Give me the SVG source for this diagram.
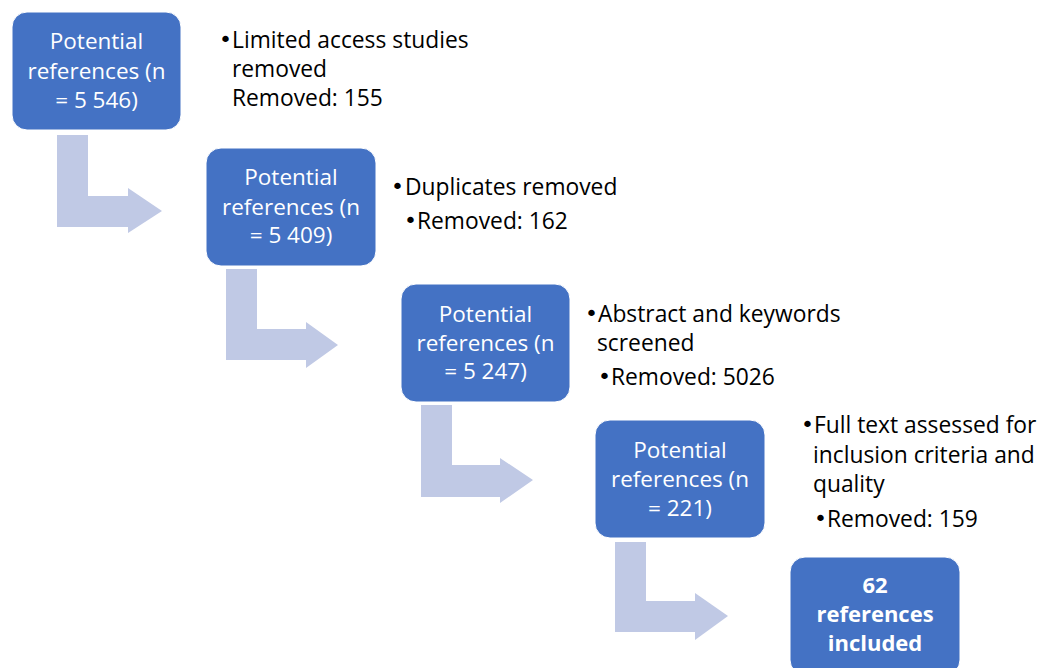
<svg xmlns="http://www.w3.org/2000/svg" width="1042" height="668" viewBox="0 0 1042 668">
<style>
.box{fill:#4472C4;stroke:#ffffff;stroke-width:1}
.arr{fill:#C0C9E5}
.bt{font-family:"Open Sans","Noto Sans",sans-serif;font-size:22.5px;fill:#ffffff;text-anchor:middle}
.bb{font-family:"Open Sans","Noto Sans",sans-serif;font-size:22px;font-weight:bold;fill:#ffffff;text-anchor:middle}
.st{font-family:"Open Sans","Noto Sans",sans-serif;font-size:22.8px;fill:#000000}
.bu{font-family:"DejaVu Sans",sans-serif;font-size:22px;fill:#000000}
</style>
<rect width="1042" height="668" fill="#ffffff"/>
<g id="connectors">
<polygon class="arr" points="57,135 88,135 88,196 128,196 128,188 162,211 128,233 128,227 57,227"/>
<polygon class="arr" points="226,269 257,269 257,329 306,329 306,322 338,345 306,368 306,360 226,360"/>
<polygon class="arr" points="421,405 452,405 452,465 500,465 500,458 533,480 500,503 500,497 421,497"/>
<polygon class="arr" points="615,542 646,542 646,601 695,601 695,593 728,616 695,640 695,632 615,632"/>
</g>
<g id="node1">
<rect class="box" x="12" y="12" width="169" height="118" rx="15"/>
<text class="bt" x="96.5" y="49">Potential</text>
<text class="bt" x="96.5" y="79">references (n</text>
<text class="bt" x="96.5" y="108">= 5 546)</text>
</g>
<g id="note1">
<text class="bu" x="219" y="47">•</text>
<text class="st" x="232" y="48">Limited access studies</text>
<text class="st" x="232" y="77">removed</text>
<text class="st" x="232" y="106">Removed: 155</text>
</g>
<g id="node2">
<rect class="box" x="206" y="148" width="170" height="118" rx="15"/>
<text class="bt" x="291" y="185">Potential</text>
<text class="bt" x="291" y="215">references (n</text>
<text class="bt" x="291" y="243">= 5 409)</text>
</g>
<g id="note2">
<text class="bu" x="391" y="194">•</text>
<text class="st" x="405" y="195">Duplicates removed</text>
<text class="bu" x="404" y="228">•</text>
<text class="st" x="417" y="229">Removed: 162</text>
</g>
<g id="node3">
<rect class="box" x="401" y="284" width="169" height="118" rx="15"/>
<text class="bt" x="485.5" y="322">Potential</text>
<text class="bt" x="485.5" y="351">references (n</text>
<text class="bt" x="485.5" y="379">= 5 247)</text>
</g>
<g id="note3">
<text class="bu" x="585" y="321">•</text>
<text class="st" x="598" y="322">Abstract and keywords</text>
<text class="st" x="597" y="351">screened</text>
<text class="bu" x="598" y="384">•</text>
<text class="st" x="611" y="385">Removed: 5026</text>
</g>
<g id="node4">
<rect class="box" x="595" y="420" width="170" height="118" rx="15"/>
<text class="bt" x="680" y="458">Potential</text>
<text class="bt" x="680" y="487">references (n</text>
<text class="bt" x="680" y="516">= 221)</text>
</g>
<g id="note4">
<text class="bu" x="801" y="432">•</text>
<text class="st" x="814" y="433">Full text assessed for</text>
<text class="st" x="813" y="463">inclusion criteria and</text>
<text class="st" x="813" y="492">quality</text>
<text class="bu" x="814" y="526">•</text>
<text class="st" x="827" y="527">Removed: 159</text>
</g>
<g id="node5">
<rect class="box" x="790" y="557" width="170" height="118" rx="15"/>
<text class="bb" x="875" y="593">62</text>
<text class="bb" x="875" y="622">references</text>
<text class="bb" x="875" y="651">included</text>
</g>
</svg>
